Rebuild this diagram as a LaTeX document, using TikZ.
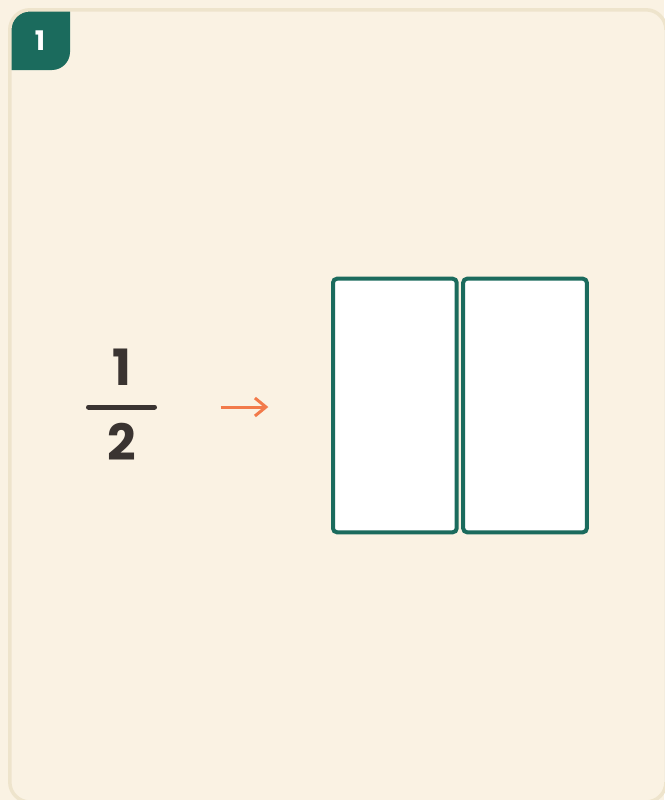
\documentclass[tikz,border=0pt]{standalone}
\usepackage{fontspec}
\setmainfont{Poppins}
\usetikzlibrary{arrows.meta}
\definecolor{cardbg}{HTML}{FAF2E3}
\definecolor{cardline}{HTML}{EEE4CC}
\definecolor{teal}{HTML}{1B6B5D}
\definecolor{ink}{HTML}{3A3431}
\definecolor{orangeline}{HTML}{F27A4A}
\tikzset{
  half/.style={draw=teal, fill=white, line width=4pt, rounded corners=4pt,
    minimum width=123.7pt, minimum height=253.6pt, inner sep=0pt, outer sep=0pt},
  digit/.style={text=ink, font=\fontsize{50}{50}\selectfont\bfseries, inner sep=0pt, anchor=base},
}
\begin{document}
\begin{tikzpicture}[x=1pt,y=-1pt]
\useasboundingbox (0,0) rectangle (664,800);
\fill[cardbg] (0,0) rectangle (664,800);
\begin{scope}
  \clip[rounded corners=20pt] (9.8,9.8) rectangle (666,802);
  \fill[teal] (0,0) -- (70,0) -- (70,52) .. controls (70,61.9) and (61.9,70) .. (52,70) -- (0,70) -- cycle;
\end{scope}
\draw[cardline, line width=3.5pt, rounded corners=20pt] (9.8,9.8) rectangle (666,802);
\node[text=white, font=\fontsize{27}{27}\selectfont\bfseries, inner sep=0pt, anchor=base] (badge) at (40,50.5) {1};
% fraction
\node[digit] (num) at (121.7,385) {1};
\node[digit] (den) at (122,460) {2};
\coordinate (barl) at (88.5,407);
\coordinate (barr) at (154.5,407);
\draw[ink, line width=5pt, line cap=round] (barl) -- (barr);
% arrow
\coordinate (arrs) at (220.7,407);
\coordinate (arre) at (268.3,407);
\draw[orangeline, line width=3pt, -{Straight Barb[length=11pt, width=18pt, line width=3pt]}] (arrs) -- (arre);
% halves
\node[half] (lefthalf) at (394.85,405.5) {};
\node[half] (righthalf) at (525,405.5) {};
\end{tikzpicture}
\end{document}
